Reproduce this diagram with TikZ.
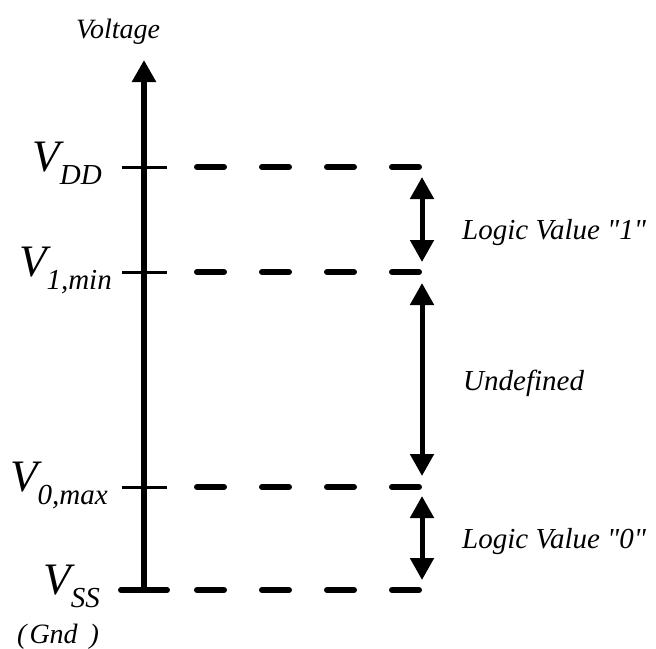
\documentclass[tikz,border=0pt]{standalone}
\usepackage{fontspec}
\setmainfont{Liberation Serif}
\newfontfamily\rawserif{Liberation Serif}
\usetikzlibrary{arrows.meta}
\begin{document}
\begin{tikzpicture}[x=1pt,y=-1pt,
  lbl/.style={inner sep=0pt,anchor=base east,font=\fontsize{45}{50}\selectfont\itshape},
  txt/.style={inner sep=0pt,anchor=base west,font=\rawserif\fontsize{29}{32}\selectfont\itshape},
  axisline/.style={line width=6.5pt,-{Triangle[width=23pt,length=22pt]}},
  tickline/.style={line width=3pt},
  dashline/.style={line width=6pt,line cap=round,dash pattern=on 27pt off 38pt},
  rangearrow/.style={line width=5pt,{Triangle[width=23pt,length=22pt]}-{Triangle[width=23pt,length=22pt]}}]
\useasboundingbox (0,0) rectangle (656,648);
\newcommand{\subs}[1]{\raisebox{-13pt}{\fontsize{29}{32}\selectfont #1}}
% axis
\coordinate (ax0) at (144,590);
\coordinate (ax1) at (144,60);
\draw[axisline] (ax0) -- (ax1);
\node[inner sep=0pt,anchor=base,font=\fontsize{28}{30}\selectfont\itshape] (volt) at (118,38) {Voltage};
% ticks
\coordinate (t1a) at (122,167); \coordinate (t1b) at (167,167);
\coordinate (t2a) at (122,272); \coordinate (t2b) at (167,272);
\coordinate (t3a) at (122,487); \coordinate (t3b) at (167,487);
\coordinate (t4a) at (121,590); \coordinate (t4b) at (167,590);
\draw[tickline] (t1a) -- (t1b);
\draw[tickline] (t2a) -- (t2b);
\draw[tickline] (t3a) -- (t3b);
\draw[line width=6pt,line cap=round] (t4a) -- (t4b);
% labels
\node[lbl] (vdd) at (102,171) {V\subs{DD}};
\node[lbl] (v1) at (112,276) {V\subs{1,min}};
\node[lbl] (v0) at (108,491) {V\subs{0,max}};
\node[lbl] (vss) at (100,594) {V\subs{SS}};
\node[inner sep=0pt,anchor=base west,font=\fontsize{28}{30}\selectfont\itshape] (gnd) at (17,643) {(\hspace{3pt}Gnd\hspace{5pt} )};
% dashed lines
\coordinate (d1a) at (197,167); \coordinate (d1b) at (419,167);
\coordinate (d2a) at (197,272); \coordinate (d2b) at (419,272);
\coordinate (d3a) at (197,487); \coordinate (d3b) at (419,487);
\coordinate (d4a) at (197,590); \coordinate (d4b) at (419,590);
\draw[dashline] (d1a) -- (d1b);
\draw[dashline] (d2a) -- (d2b);
\draw[dashline] (d3a) -- (d3b);
\draw[dashline] (d4a) -- (d4b);
% range arrows
\coordinate (r1a) at (422,177); \coordinate (r1b) at (422,262);
\coordinate (r2a) at (422,283); \coordinate (r2b) at (422,476);
\coordinate (r3a) at (422,496); \coordinate (r3b) at (422,580);
\draw[rangearrow] (r1a) -- (r1b);
\draw[rangearrow] (r2a) -- (r2b);
\draw[rangearrow] (r3a) -- (r3b);
\node[txt] (l1) at (462,239) {Logic Value "1"};
\node[txt] (und) at (463,390) {Undefined};
\node[txt] (l0) at (462,548) {Logic Value "0"};
\end{tikzpicture}
\end{document}
